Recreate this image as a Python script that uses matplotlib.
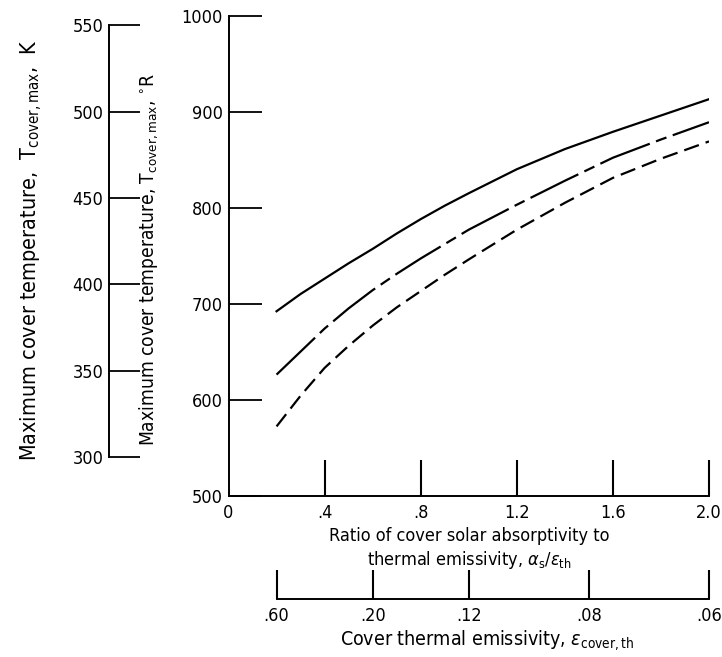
import matplotlib
matplotlib.use('Agg')
import matplotlib.pyplot as plt
from matplotlib import font_manager as fm

# -----------------------------
# Font: a narrow sans if one is installed, else Liberation Sans
# -----------------------------
narrow = None
for f in fm.fontManager.ttflist:
    if f.style != 'normal' or f.weight not in (400, 'normal', 'regular'):
        continue
    if 'Narrow' in f.name or 'Condensed' in f.name or f.stretch in ('condensed', 'semi-condensed'):
        if narrow is None or 'Liberation' in f.name:
            narrow = f
if narrow is not None:
    base_font = narrow.name
    plt.rcParams['font.stretch'] = narrow.stretch
else:
    base_font = 'Liberation Sans'
plt.rcParams['font.family'] = [base_font, 'DejaVu Sans']
plt.rcParams['mathtext.fontset'] = 'custom'
plt.rcParams['mathtext.rm'] = base_font
plt.rcParams['mathtext.it'] = base_font + ':italic'
plt.rcParams['mathtext.sf'] = base_font

# -----------------------------
# Data (x = alpha_s / eps_th, y = T in deg R)
# -----------------------------
ratio = [0.2, 0.3, 0.4, 0.5, 0.6, 0.7, 0.8, 0.9, 1.0, 1.2, 1.4, 1.6, 1.8, 2.0]
t_solid = [692, 710, 726, 742, 757, 773, 788, 802, 815, 840, 861, 879, 896, 913]
t_dashdot = [626, 650, 674, 695, 714, 731, 747, 762, 777, 803, 828, 852, 871, 889]
t_dashed = [572, 604, 633, 656, 677, 696, 713, 730, 746, 777, 805, 831, 851, 869]

x_ticks = [0.4, 0.8, 1.2, 1.6, 2.0]
x_ticklabels = ['.4', '.8', '1.2', '1.6', '2.0']
r_ticks = [500, 600, 700, 800, 900, 1000]
k_ticks = [300, 350, 400, 450, 500, 550]

# emissivity scale: alpha_s = 0.12, so ratio = 0.12 / eps
alpha_s = 0.12
eps_ticks = [0.60, 0.20, 0.12, 0.08, 0.06]
eps_ticklabels = ['.60', '.20', '.12', '.08', '.06']

fs = 13
fig = plt.figure(figsize=(7.22, 6.57), dpi=100)

# -----------------------------
# Main axes (deg R)
# -----------------------------
left, width = 0.3165, 0.6655
bottom, height = 0.2458, 0.7303
ax = fig.add_axes([left, bottom, width, height])

ax.plot(ratio, t_solid, color='black', lw=1.6)
ax.plot(ratio, t_dashdot, color='black', lw=1.6, linestyle=(0, (24, 3, 5, 3)))
ax.plot(ratio, t_dashed, color='black', lw=1.6, linestyle=(0, (7, 3.2)))

ax.set_xlim(0, 2.0)
ax.set_ylim(500, 1000)
for s in ['top', 'right']:
    ax.spines[s].set_visible(False)
for s in ['left', 'bottom']:
    ax.spines[s].set_linewidth(1.4)

ax.set_xticks(x_ticks)
ax.set_xticklabels(x_ticklabels)
ax.set_yticks(r_ticks)
ax.tick_params(axis='x', direction='in', length=26, width=1.5, labelsize=fs, pad=6)
ax.tick_params(axis='y', direction='in', length=24, width=1.3, labelsize=fs, pad=4)
ax.text(0, -0.018, '0', transform=ax.transAxes, ha='center', va='top', fontsize=fs)

ax.set_xlabel('Ratio of cover solar absorptivity to\nthermal emissivity, $\\alpha_\\mathrm{s}/\\epsilon_\\mathrm{th}$',
              fontsize=fs, labelpad=4, linespacing=1.2)

# -----------------------------
# Kelvin scale on the far left
# -----------------------------
ax_k = fig.add_axes([109 / 722, bottom, 0.001, height])
ax_k.set_ylim(500 / 1.8, 1000 / 1.8)
ax_k.set_xticks([])
for s in ['top', 'right', 'bottom']:
    ax_k.spines[s].set_visible(False)
ax_k.spines['left'].set_bounds(300, 550)
ax_k.spines['left'].set_linewidth(1.4)
ax_k.set_yticks(k_ticks)
ax_k.tick_params(axis='y', direction='in', length=22, width=1.3, labelsize=fs, pad=4)
ax_k.patch.set_visible(False)

fig.text(32 / 722, 1 - 250 / 657, 'Maximum cover temperature,  $\\mathrm{T_{cover,max}}$,  K',
         rotation=90, ha='center', va='center', fontsize=15.5)
fig.text(149 / 722, 1 - 260 / 657, 'Maximum cover temperature, $\\mathrm{T_{cover,max}}$, $^{\\circ}\\mathrm{R}$',
         rotation=90, ha='center', va='center', fontsize=13.8)

# -----------------------------
# Emissivity scale at the bottom
# -----------------------------
ax_e = fig.add_axes([left, 1 - 599 / 657, width, 0.001])
ax_e.set_xlim(0, 2.0)
ax_e.set_yticks([])
for s in ['top', 'right', 'left']:
    ax_e.spines[s].set_visible(False)
ax_e.spines['bottom'].set_bounds(alpha_s / eps_ticks[0], alpha_s / eps_ticks[-1])
ax_e.spines['bottom'].set_linewidth(1.4)
ax_e.set_xticks([alpha_s / e for e in eps_ticks])
ax_e.set_xticklabels(eps_ticklabels)
ax_e.tick_params(axis='x', direction='in', length=21, width=1.5, labelsize=fs, pad=6)
ax_e.set_xlabel('Cover thermal emissivity, $\\epsilon_\\mathrm{cover,th}$', fontsize=14, labelpad=2)
ax_e.xaxis.label.set_x(0.539)
ax_e.patch.set_visible(False)

plt.savefig('out.png', dpi=100)
